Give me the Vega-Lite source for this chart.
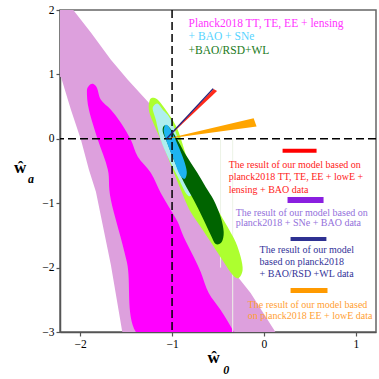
{
  "$schema": "https://vega.github.io/schema/vega-lite/v6.json",
  "width": 316,
  "height": 322,
  "autosize": {"type": "none"},
  "padding": {"left": 60, "top": 10, "right": 3, "bottom": 47},
  "config": {
    "view": {"stroke": "#666", "strokeWidth": 1.5},
    "font": "Times New Roman, Liberation Serif, serif",
    "axis": {"grid": false, "labelFont": "Times New Roman, Liberation Serif, serif", "labelFontSize": 11.5, "labelColor": "black", "tickColor": "#555", "domainColor": "#555", "tickSize": 4, "domainWidth": 1.5, "tickWidth": 1.2, "title": null}
  },
  "resolve": {"scale": {"color": "independent"}},
  "encoding": {
    "x": {"field": "x", "type": "quantitative", "scale": {"domain": [-2.22, 1.22], "nice": false, "zero": false}, "axis": {"values": [-2, -1, 0, 1], "labelPadding": 2, "labelFont": "Times New Roman, Liberation Serif, serif"}},
    "y": {"field": "y", "type": "quantitative", "scale": {"domain": [-3, 2], "nice": false, "zero": false}, "axis": {"values": [-3, -2, -1, 0, 1, 2], "labelPadding": 2, "labelFont": "Times New Roman, Liberation Serif, serif"}}
  },
  "layer": [
    {
      "data": {"values": [
        {"x": -2.3, "y": 2.1}, {"x": -2.13, "y": 2.1}, {"x": -1.884, "y": 1.649}, {"x": -1.666, "y": 1.229}, {"x": -1.482, "y": 0.918}, {"x": -1.253, "y": 0.56}, {"x": -1.123, "y": 0.295}, {"x": -0.96, "y": -0.093}, {"x": -0.742, "y": -0.638}, {"x": -0.525, "y": -1.182}, {"x": -0.36, "y": -1.75}, {"x": -0.275, "y": -2.162}, {"x": -0.145, "y": -2.395}, {"x": -0.014, "y": -2.69}, {"x": 0.17, "y": -3.1}, {"x": -1.53, "y": -3.1}, {"x": -1.666, "y": -1.96}, {"x": -1.829, "y": -0.824}, {"x": -1.905, "y": -0.482}, {"x": -1.992, "y": -0.016}, {"x": -2.101, "y": 0.451}, {"x": -2.21, "y": 0.964}, {"x": -2.3, "y": 0.9}
      ]},
      "mark": {"type": "line", "fill": "#DDA0DD", "stroke": null, "interpolate": "linear-closed", "clip": true},
      "encoding": {"order": {"value": null}}
    },
    {
      "data": {"values": [
        {"x": -1.927, "y": 0.731}, {"x": -1.905, "y": 0.824}, {"x": -1.862, "y": 0.855}, {"x": -1.818, "y": 0.793}, {"x": -1.775, "y": 0.607}, {"x": -1.666, "y": 0.451}, {"x": -1.558, "y": 0.249}, {"x": -1.449, "y": -0.016}, {"x": -1.373, "y": -0.28}, {"x": -1.232, "y": -0.529}, {"x": -1.123, "y": -0.84}, {"x": -1.014, "y": -1.104}, {"x": -0.938, "y": -1.291}, {"x": -0.873, "y": -1.524}, {"x": -0.764, "y": -1.835}, {"x": -0.688, "y": -2.068}, {"x": -0.601, "y": -2.395}, {"x": -0.471, "y": -2.659}, {"x": -0.34, "y": -2.97}, {"x": -0.31, "y": -3.1}, {"x": -1.33, "y": -3.1}, {"x": -1.492, "y": -1.913}, {"x": -1.666, "y": -0.949}, {"x": -1.699, "y": -0.482}, {"x": -1.808, "y": -0.016}, {"x": -1.905, "y": 0.451}
      ]},
      "mark": {"type": "line", "fill": "#FF00FF", "stroke": null, "interpolate": "cardinal-closed", "clip": true},
      "encoding": {"order": {"value": null}}
    },
    {
      "data": {"values": [{"x": -0.472, "y": 0, "y2": -2.0}, {"x": -0.34, "y": 0, "y2": -3}]},
      "mark": {"type": "rule", "color": "#ecf3e6", "strokeWidth": 1},
      "encoding": {"y2": {"field": "y2"}}
    },
    {
      "data": {"values": [
        {"x": -1.242, "y": 0.607}, {"x": -1.199, "y": 0.638}, {"x": -1.145, "y": 0.591}, {"x": -1.047, "y": 0.404}, {"x": -0.938, "y": 0.14}, {"x": -0.829, "y": -0.327}, {"x": -0.721, "y": -0.591}, {"x": -0.612, "y": -0.84}, {"x": -0.503, "y": -1.104}, {"x": -0.395, "y": -1.369}, {"x": -0.308, "y": -1.602}, {"x": -0.253, "y": -1.835}, {"x": -0.232, "y": -2.037}, {"x": -0.275, "y": -2.162}, {"x": -0.34, "y": -2.115}, {"x": -0.438, "y": -1.913}, {"x": -0.558, "y": -1.649}, {"x": -0.688, "y": -1.369}, {"x": -0.797, "y": -1.135}, {"x": -0.873, "y": -0.902}, {"x": -1.014, "y": -0.404}, {"x": -1.123, "y": -0.016}, {"x": -1.21, "y": 0.264}, {"x": -1.253, "y": 0.451}
      ]},
      "mark": {"type": "line", "fill": "#ADFF2F", "stroke": null, "interpolate": "cardinal-closed", "clip": true},
      "encoding": {"order": {"value": null}}
    },
    {
      "data": {"values": [
        {"x": -1.199, "y": 0.513}, {"x": -1.155, "y": 0.544}, {"x": -1.101, "y": 0.451}, {"x": -1.014, "y": 0.295}, {"x": -0.905, "y": -0.124}, {"x": -0.818, "y": -0.482}, {"x": -0.775, "y": -0.747}, {"x": -0.797, "y": -0.886}, {"x": -0.851, "y": -0.84}, {"x": -0.938, "y": -0.591}, {"x": -1.047, "y": -0.28}, {"x": -1.123, "y": -0.016}, {"x": -1.177, "y": 0.295}, {"x": -1.21, "y": 0.451}
      ]},
      "mark": {"type": "line", "fill": "#AFEEEE", "stroke": null, "interpolate": "cardinal-closed", "clip": true},
      "encoding": {"order": {"value": null}}
    },
    {
      "data": {"values": [
        {"x": -1.088, "y": 0.202}, {"x": -1.036, "y": 0.187}, {"x": -0.96, "y": 0.031}, {"x": -0.851, "y": -0.249}, {"x": -0.732, "y": -0.513}, {"x": -0.634, "y": -0.747}, {"x": -0.547, "y": -0.949}, {"x": -0.471, "y": -1.213}, {"x": -0.438, "y": -1.446}, {"x": -0.46, "y": -1.602}, {"x": -0.525, "y": -1.633}, {"x": -0.579, "y": -1.493}, {"x": -0.666, "y": -1.229}, {"x": -0.764, "y": -0.949}, {"x": -0.873, "y": -0.669}, {"x": -0.981, "y": -0.327}, {"x": -1.057, "y": -0.047}, {"x": -1.101, "y": 0.109}
      ]},
      "mark": {"type": "line", "fill": "#006400", "stroke": null, "interpolate": "cardinal-closed", "clip": true},
      "encoding": {"order": {"value": null}}
    },
    {
      "data": {"values": [
        {"x": -1.068, "y": 0.218}, {"x": -1.014, "y": 0.14}, {"x": -0.938, "y": -0.093}, {"x": -0.873, "y": -0.327}, {"x": -0.84, "y": -0.513}, {"x": -0.862, "y": -0.622}, {"x": -0.916, "y": -0.56}, {"x": -0.981, "y": -0.327}, {"x": -1.047, "y": -0.093}, {"x": -1.09, "y": 0.109}
      ]},
      "mark": {"type": "line", "fill": "#1EB4F0", "stroke": null, "interpolate": "cardinal-closed", "clip": true},
      "encoding": {"order": {"value": null}}
    },
    {
      "data": {"values": [{"x": -1}]},
      "mark": {"type": "rule", "color": "black", "strokeWidth": 1.5, "strokeDash": [8, 4]},
      "encoding": {"y": null}
    },
    {
      "data": {"values": [{"y": 0}]},
      "mark": {"type": "rule", "color": "black", "strokeWidth": 1.5, "strokeDash": [8, 4]},
      "encoding": {"x": null}
    },
    {
      "data": {"values": [{"x": -1.06, "y": 0.0}, {"x": -0.548, "y": 0.775}, {"x": -0.51, "y": 0.742}]},
      "mark": {"type": "line", "fill": "#FF2A1A", "stroke": null, "interpolate": "linear-closed", "clip": true},
      "encoding": {"order": {"value": null}}
    },
    {
      "data": {"values": [{"x": -1.06, "y": 0.0}, {"x": -0.553, "y": 0.78}]},
      "mark": {"type": "line", "color": "#22227a", "strokeWidth": 1.3, "clip": true},
      "encoding": {"order": {"value": null}}
    },
    {
      "data": {"values": [{"x": -1.06, "y": 0.0}, {"x": -0.112, "y": 0.32}, {"x": -0.08, "y": 0.19}]},
      "mark": {"type": "line", "fill": "#FFA500", "stroke": null, "interpolate": "linear-closed", "clip": true},
      "encoding": {"order": {"value": null}}
    },
    {
      "data": {"values": [
        {"x": 0.203, "x2": 0.573, "y": -0.156, "y2": -0.218, "c": "red"},
        {"x": 0.257, "x2": 0.649, "y": -0.902, "y2": -0.995, "c": "purple"},
        {"x": 0.29, "x2": 0.68, "y": -1.524, "y2": -1.586, "c": "navy"},
        {"x": 0.29, "x2": 0.692, "y": -2.317, "y2": -2.395, "c": "orange"}
      ]},
      "mark": {"type": "rect"},
      "encoding": {
        "x2": {"field": "x2"}, "y2": {"field": "y2"},
        "color": {"field": "c", "type": "nominal", "scale": {"domain": ["red", "purple", "navy", "orange"], "range": ["#FF0000", "#8A1FE0", "#2E3192", "#FF9A00"]}, "legend": null}
      }
    },
    {
      "data": {"values": [
        {"x": -0.82, "y": 1.78, "t": "Planck2018 TT, TE, EE + lensing", "c": "a"},
        {"x": -0.82, "y": 1.586, "t": "+ BAO + SNe", "c": "b"},
        {"x": -0.82, "y": 1.369, "t": "+BAO/RSD+WL", "c": "c"}
      ]},
      "mark": {"type": "text", "align": "left", "baseline": "middle", "font": "Times New Roman, Liberation Serif, serif", "fontSize": 11.5},
      "encoding": {
        "text": {"field": "t"},
        "color": {"field": "c", "type": "nominal", "scale": {"domain": ["a", "b", "c"], "range": ["#FF33FF", "#55D4FF", "#1A7A1A"]}, "legend": null}
      }
    },
    {
      "data": {"values": [
        {"x": -0.384, "y": -0.404, "t": "The result of our model based on", "c": "d"},
        {"x": -0.384, "y": -0.591, "t": "planck2018 TT, TE, EE + lowE +", "c": "d"},
        {"x": -0.384, "y": -0.793, "t": "lensing + BAO data", "c": "d"},
        {"x": -0.308, "y": -1.146, "t": "The result of our model based on", "c": "e"},
        {"x": -0.308, "y": -1.314, "t": "planck2018 + SNe + BAO data", "c": "e"},
        {"x": -0.047, "y": -1.726, "t": "The result of our model", "c": "f"},
        {"x": -0.047, "y": -1.913, "t": "based on planck2018", "c": "f"},
        {"x": -0.047, "y": -2.092, "t": "+ BAO/RSD +WL data", "c": "f"},
        {"x": -0.177, "y": -2.574, "t": "The result of our model based", "c": "g"},
        {"x": -0.177, "y": -2.753, "t": "on planck2018 EE + lowE data", "c": "g"}
      ]},
      "mark": {"type": "text", "align": "left", "baseline": "middle", "font": "Times New Roman, Liberation Serif, serif", "fontSize": 10},
      "encoding": {
        "text": {"field": "t"},
        "color": {"field": "c", "type": "nominal", "scale": {"domain": ["d", "e", "f", "g"], "range": ["#FF1A1A", "#9370DB", "#333399", "#FFA033"]}, "legend": null}
      }
    },
    {
      "data": {"values": [
        {"x": -2.655, "y": -0.45, "t": "ŵ"},
        {"x": -0.547, "y": -3.406, "t": "ŵ"}
      ]},
      "mark": {"type": "text", "align": "center", "baseline": "middle", "font": "Times New Roman, Liberation Serif, serif", "fontSize": 17, "fontWeight": "bold", "color": "black"},
      "encoding": {"text": {"field": "t"}}
    },
    {
      "data": {"values": [
        {"x": -2.536, "y": -0.622, "t": "a"},
        {"x": -0.411, "y": -3.585, "t": "0"}
      ]},
      "mark": {"type": "text", "align": "center", "baseline": "middle", "font": "Times New Roman, Liberation Serif, serif", "fontSize": 12, "fontWeight": "bold", "fontStyle": "italic", "color": "black"},
      "encoding": {"text": {"field": "t"}}
    }
  ]
}
